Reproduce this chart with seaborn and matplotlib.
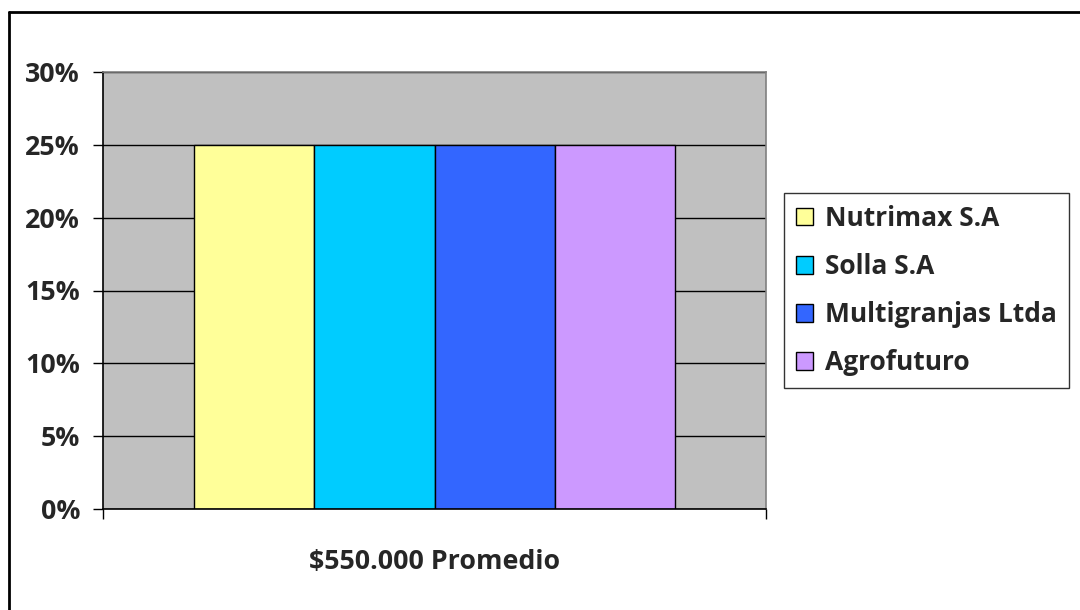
import matplotlib
matplotlib.use("Agg")
import matplotlib.pyplot as plt
import matplotlib.lines as mlines
import seaborn as sns
import pandas as pd
from matplotlib.ticker import PercentFormatter

categories = ["$550.000 Promedio"]
companies = ["Nutrimax S.A", "Solla S.A", "Multigranjas Ltda", "Agrofuturo"]
shares = [0.25, 0.25, 0.25, 0.25]
colors = ["#FFFF99", "#00CCFF", "#3366FF", "#CC99FF"]
yticks = [0, 0.05, 0.10, 0.15, 0.20, 0.25, 0.30]

df = pd.DataFrame({"cat": [categories[0]] * len(companies),
                   "company": companies, "share": shares})

sns.set_style("white")
plt.rcParams["font.family"] = ["Open Sans", "DejaVu Sans"]
plt.rcParams["font.weight"] = "bold"

FS = 19.3

fig = plt.figure(figsize=(10.8, 6.1), dpi=100)
ax = fig.add_axes([103/1080, 1-509/610, (766-103)/1080, (509-72)/610])

ax.set_facecolor("#C0C0C0")
ax.set_axisbelow(True)
ax.yaxis.grid(True, color="black", linewidth=1)

sns.barplot(data=df, x="cat", y="share", hue="company", hue_order=companies,
            palette=colors, width=0.725, edgecolor="black", linewidth=1,
            saturation=1, ax=ax, legend=True)

ax.set_xlim(-0.5, 0.5)
ax.set_ylim(0, 0.30)
ax.set_yticks(yticks)
ax.yaxis.set_major_formatter(PercentFormatter(1.0, decimals=0))
ax.set_xticks([-0.5, 0.5])
ax.set_xticklabels(["", ""])
ax.tick_params(axis="y", direction="out", length=7.5, width=1, color="black",
               pad=9, labelsize=FS, left=True)
ax.tick_params(axis="x", direction="out", length=7, width=1, color="black",
               bottom=True)
for lab in ax.get_yticklabels():
    lab.set_fontweight("bold")
ax.set_ylabel("")
ax.set_xlabel(categories[0], fontsize=FS, fontweight="bold", labelpad=18)

for side in ["top", "right"]:
    ax.spines[side].set_visible(True)
    ax.spines[side].set_color("#808080")
    ax.spines[side].set_linewidth(1.2)
for side in ["left", "bottom"]:
    ax.spines[side].set_visible(True)
    ax.spines[side].set_color("black")
    ax.spines[side].set_linewidth(1.2)

handles, labels = ax.get_legend_handles_labels()
ax.legend_.remove()
leg = fig.legend(handles, labels, loc="upper left",
                 bbox_to_anchor=(784/1080, 1-193/610), bbox_transform=fig.transFigure,
                 borderaxespad=0, frameon=True, fancybox=False, shadow=False,
                 prop={"size": 19, "weight": "bold"}, handlelength=0.65,
                 handleheight=0.65, handletextpad=0.45, labelspacing=0.8,
                 borderpad=0.45)
leg.get_frame().set_edgecolor("black")
leg.get_frame().set_linewidth(1)

# outer chart border (top and left visible)
fig.add_artist(mlines.Line2D([9/1080, 1], [1-12/610, 1-12/610], color="black",
                             linewidth=2, transform=fig.transFigure))
fig.add_artist(mlines.Line2D([9/1080, 9/1080], [0, 1-12/610], color="black",
                             linewidth=2, transform=fig.transFigure))

fig.savefig("out.png", dpi=100)
